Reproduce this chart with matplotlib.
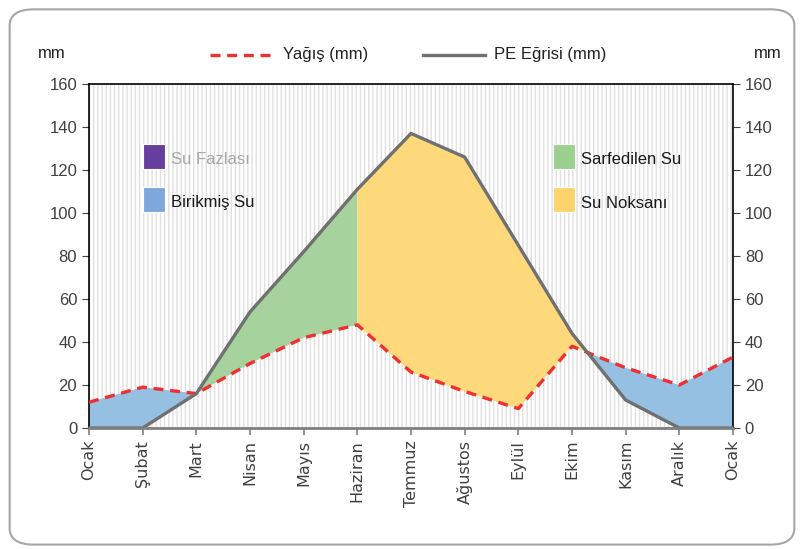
import numpy as np
import matplotlib.pyplot as plt
from matplotlib.patches import FancyBboxPatch, Rectangle
from matplotlib.lines import Line2D

# data
months = ["Ocak", "Şubat", "Mart", "Nisan", "Mayıs", "Haziran", "Temmuz",
          "Ağustos", "Eylül", "Ekim", "Kasım", "Aralık", "Ocak"]
yagis = [12, 19, 16, 30, 42, 48, 26, 17, 9, 38, 28, 20, 33]
pe = [0, 0, 16, 54, 82, 111, 137, 126, 85, 44, 13, 0, 0]
yticks = [0, 20, 40, 60, 80, 100, 120, 140, 160]

narrow = ["Liberation Sans Narrow", "Liberation Sans", "DejaVu Sans"]
plt.rcParams["hatch.linewidth"] = 1.0

x = np.arange(len(months))
P = np.array(yagis, dtype=float)
E = np.array(pe, dtype=float)

fig = plt.figure(figsize=(8.04, 5.49), dpi=100)
fig.patch.set_facecolor("white")
fig.patches.append(FancyBboxPatch((0.012, 0.008), 0.976, 0.975,
                                  boxstyle="round,pad=0,rounding_size=0.03",
                                  transform=fig.transFigure, fill=False,
                                  edgecolor="#a6a6a6", linewidth=1.5))

ax = fig.add_axes([0.1107, 0.2204, 0.801, 0.6266])
ax.set_xlim(0, len(months) - 1)
ax.set_ylim(0, 160)

# striped background
ax.add_patch(Rectangle((0, 0), len(months) - 1, 160, facecolor="white",
                       edgecolor="#e0e0e0", hatch="||||", linewidth=0, zorder=0))

# water balance areas
ax.fill_between(x, P, E, where=P >= E, interpolate=True,
                facecolor="#95c0e2", linewidth=0, zorder=1)
ax.fill_between(x[2:6], P[2:6], E[2:6], facecolor="#a6d39d", linewidth=0, zorder=1)
ax.fill_between(x[5:], P[5:], E[5:], where=E[5:] > P[5:], interpolate=True,
                facecolor="#fdd97c", linewidth=0, zorder=1)

ax.plot(x, P, color="#f03030", linestyle=(0, (3, 2)), linewidth=2.4, zorder=3)
ax.plot(x, E, color="#707070", linewidth=2.4, zorder=4)

ax.set_xticks(x)
ax.set_xticklabels(months, rotation=90, fontsize=11.5, color="#404040")
ax.set_yticks(yticks)
ax.tick_params(axis="y", labelsize=12, colors="#404040", direction="out",
               length=5, left=True, right=True, labelleft=True, labelright=True)
ax.tick_params(axis="x", colors="#7f7f7f", length=5, width=1.2)
for lab in ax.get_xticklabels():
    lab.set_color("#404040")
for lab in ax.get_yticklabels():
    lab.set_fontfamily(narrow[1:])
for side in ["left", "right", "top"]:
    ax.spines[side].set_color("black")
    ax.spines[side].set_linewidth(1.2)
ax.spines["bottom"].set_color("#7f7f7f")
ax.spines["bottom"].set_linewidth(2)
ax.spines["bottom"].set_zorder(5)

# axis units
fig.text(52 / 804, 1 - 53 / 549, "mm", fontsize=12, family=narrow, color="#222222",
         ha="center", va="center")
fig.text(768 / 804, 1 - 53 / 549, "mm", fontsize=12, family=narrow, color="#222222",
         ha="center", va="center")

# top legend
fig.lines.append(Line2D([210 / 804, 272 / 804], [1 - 55 / 549] * 2,
                        transform=fig.transFigure, color="#f03030",
                        linestyle=(0, (3, 2)), linewidth=2.4))
fig.text(283 / 804, 1 - 55 / 549, "Yağış (mm)", fontsize=12, family=narrow,
         color="#222222", va="center")
fig.lines.append(Line2D([423 / 804, 485 / 804], [1 - 55 / 549] * 2,
                        transform=fig.transFigure, color="#707070", linewidth=2.4))
fig.text(494 / 804, 1 - 55 / 549, "PE Eğrisi (mm)", fontsize=12, family=narrow,
         color="#222222", va="center")

# area legend inside the plot
boxes = [(143, 144, "#673f9f", "Su Fazlası", "#a6a6a6"),
         (143, 187, "#7ea8dc", "Birikmiş Su", "#1a1a1a"),
         (553, 144, "#9bd08f", "Sarfedilen Su", "#1a1a1a"),
         (553, 187, "#fdd46c", "Su Noksanı", "#1a1a1a")]
for bx, by, col, txt, tcol in boxes:
    fig.patches.append(Rectangle((bx / 804, 1 - (by + 25) / 549), 22 / 804, 25 / 549,
                                 transform=fig.transFigure, facecolor=col,
                                 edgecolor="white", linewidth=0.8, zorder=6))
    fig.text((bx + 28) / 804, 1 - (by + 16) / 549, txt, fontsize=12, family=narrow,
             color=tcol, va="center", zorder=6)

fig.savefig("out.png", dpi=100)
